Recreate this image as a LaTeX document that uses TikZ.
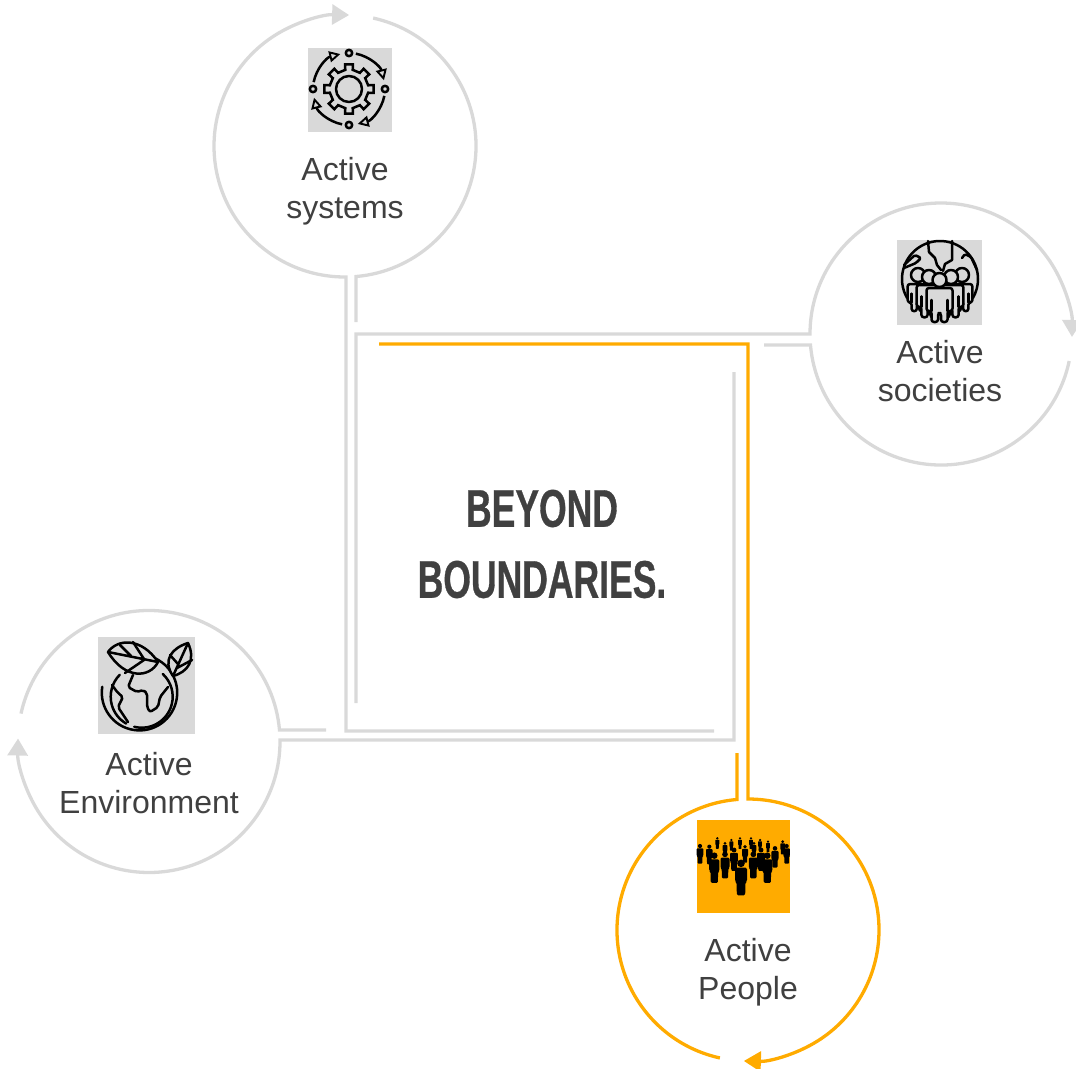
\documentclass[tikz,border=0pt]{standalone}
\usepackage{fontspec}
\setmainfont{Liberation Sans}
\newfontfamily\dispfont[FakeStretch=0.67,FakeBold=0.6]{Liberation Sans Bold}
\usetikzlibrary{arrows.meta,calc}
\definecolor{ring}{HTML}{D9D9D9}
\definecolor{amber}{HTML}{FFAB00}
\definecolor{ink}{HTML}{404040}
\tikzset{
  greyline/.style={draw=ring,line width=3.3pt,line join=miter},
  amberline/.style={draw=amber,line width=3.3pt,line join=miter},
  headgrey/.style={-{Triangle[length=17pt,width=20pt,fill=ring]}},
  headamber/.style={-{Triangle[length=17pt,width=20pt,fill=amber]}},
  label/.style={font=\fontsize{32}{38}\selectfont,text=ink,align=center,inner sep=0pt},
  title/.style={font=\dispfont\fontsize{53}{71}\selectfont,text=ink,align=center,inner sep=0pt},
  icongrey/.style={fill=ring,draw=none},
  iconamber/.style={fill=amber,draw=none},
  stroke/.style={draw=black,line width=2.5pt,line cap=round,line join=round},
  openhead/.style={-{Triangle[open,length=11pt,width=11pt,line width=1.9pt]}}
}
% one figure of a crowd: head centre at (#1,#2), scale #3
\newcommand{\crowdfig}[3]{%
  \begin{scope}[shift={(#1,#2)},scale=#3]
    \pgfmathsetmacro{\rc}{1.5*#3}
    \fill[black] (0,0) circle[radius=3.8];
    \fill[black,rounded corners=\rc pt] (-6,4.4) -- (6,4.4) -- (6,18) -- (4.4,19) -- (4.2,32) -- (-4.2,32) -- (-4.4,19) -- (-6,18) -- cycle;
  \end{scope}}
% one outlined person with a grey fill; top centre at (#1,#2), scale #3
\newcommand{\outlineperson}[3]{%
  \begin{scope}[shift={(#1,#2)},scale=#3]
    \draw[stroke,fill=ring,rounded corners=2.5pt] (-13,23) -- (-13,0) -- (13,0) -- (13,23) -- (8,23) -- (8,34) -- (1.5,34) -- (1.5,25) -- (-1.5,25) -- (-1.5,34) -- (-8,34) -- (-8,23) -- cycle;
    \draw[stroke] (8,23) -- (8,12) (-8,23) -- (-8,12);
  \end{scope}}
\begin{document}
\begin{tikzpicture}[x=1pt,y=-1pt]
\useasboundingbox (0,0) rectangle (1076,1068);
% centres
\coordinate (csys) at (345,146);
\coordinate (csoc) at (941,334);
\coordinate (cenv) at (149,741.5);
\coordinate (cpeo) at (748,930);
% free ends
\coordinate (a1) at (714,731);
\coordinate (a2) at (346,731);
\coordinate (b1) at (356,322);
\coordinate (c1) at (356,703);
\coordinate (c2) at (356,334);
\coordinate (d1) at (764,345);
\coordinate (e1) at (326,730);
\coordinate (f1) at (734,372);
\coordinate (f2) at (734,740);
\coordinate (g1) at (379,344);
\coordinate (g2) at (748,344);
\coordinate (h1) at (737,753);
% active systems
\path[greyline,headgrey] (a1) -- (a2) -- ($(csys)+(89.6:131)$) arc[start angle=89.6,end angle=271.8,radius=131];
\path[greyline] ($(csys)+(-77.6:131)$) arc[start angle=-77.6,end angle=85.18,radius=131] -- (b1);
% active societies
\path[greyline,headgrey] (c1) -- (c2) -- ($(csoc)+(180:131)$) arc[start angle=180,end angle=361.3,radius=131];
\path[greyline] ($(csoc)+(11.9:131)$) arc[start angle=11.9,end angle=175.18,radius=131] -- (d1);
% active environment
\path[greyline,headgrey] (f1) -- (f2) -- ($(cenv)+(-0.656:131)$) arc[start angle=-0.656,end angle=181.3,radius=131];
\path[greyline] ($(cenv)+(192.3:131)$) arc[start angle=192.3,end angle=354.97,radius=131] -- (e1);
% active people
\path[amberline,headamber] (g1) -- (g2) -- ($(cpeo)+(-90:131)$) arc[start angle=-90,end angle=91.8,radius=131];
\path[amberline] ($(cpeo)+(102.4:131)$) arc[start angle=102.4,end angle=265.18,radius=131] -- (h1);
% labels
\node[label] (lsys) at (345,191) {Active\\systems};
\node[label] (lsoc) at (940,371) {Active\\societies};
\node[label] (lenv) at (149,783) {Active\\Environment};
\node[label] (lpeo) at (748,972) {Active\\People};
\node[title] (ttl) at (542,544) {BEYOND\\BOUNDARIES.};
% icon squares
\fill[icongrey] (308,48) rectangle (392,132);
\fill[icongrey] (897,240) rectangle (982,325);
\fill[icongrey] (98,637) rectangle (195,734);
\fill[iconamber] (697,820) rectangle (790,913);
% gear icon
\coordinate (gc) at (349,89);
\draw[stroke] (gc) circle[radius=13];
\draw[stroke,line join=miter] ($(gc)+(-11:19.5)$)
  \foreach \a in {0,45,...,315}{ -- ($(gc)+(\a-11:19.5)$) -- ($(gc)+(\a-9:25)$) -- ($(gc)+(\a+9:25)$) -- ($(gc)+(\a+11:19.5)$)} -- cycle;
\foreach \a in {-90,0,90,180}{
  \draw[stroke] ($(gc)+(\a:36)$) circle[radius=3.2];
  \draw[stroke,openhead,line cap=butt] ($(gc)+(\a+11:36)$) arc[start angle=\a+11,end angle=\a+76,radius=36];
}
% societies icon
\coordinate (sg) at (940,279);
\draw[stroke] ($(sg)+(150:38)$) arc[start angle=150,end angle=390,radius=38];
\draw[stroke] (928,241) -- (929,252) -- (935,258) -- (937,265) -- (941,270);
\draw[stroke] (952,241) -- (952,260) -- (945,264) -- (943,271);
\draw[stroke,rounded corners=1.5pt] (904,265) -- (915,255) -- (921,258) -- (916,263) -- (904,268);
\draw[stroke,rounded corners=1.5pt] (962,258) -- (965,254) -- (971,257) -- (977,270);
\outlineperson{918}{284}{.8}
\outlineperson{962}{284}{.8}
\outlineperson{929}{285}{.95}
\outlineperson{951}{285}{.95}
\foreach \x/\y/\r in {918/275/7,962/275/7,929/277/7,951/277/7}{\draw[stroke,fill=ring] (\x,\y) circle[radius=\r];}
\outlineperson{939.5}{288}{1}
\draw[stroke,fill=ring] (939.5,280) circle[radius=7];
% environment icon
\coordinate (ei) at (141.7,696.7);
\coordinate (eo) at (139.5,692.7);
\draw[stroke] ($(ei)+(225:31)$) arc[start angle=225,end angle=120,radius=31];
\draw[stroke] ($(ei)+(104:31)$) arc[start angle=104,end angle=-47,radius=31];
\draw[stroke] ($(eo)+(189:37.7)$) arc[start angle=189,end angle=-68,radius=37.7];
\draw[stroke,fill=ring] (108,652) .. controls (118,638) and (142,638) .. (158,662) .. controls (150,678) and (125,680) .. cycle;
\draw[stroke] (108,652) -- (158,662) (120,645) -- (131,656) (133,642) -- (144,659) (125,673) -- (144,660);
\draw[stroke,fill=ring] (173,676) .. controls (162,660) and (172,648) .. (188,643) .. controls (196,660) and (188,672) .. cycle;
\draw[stroke] (173,676) -- (188,643) (170,655) -- (178,664) (192,660) -- (177,668);
\draw[stroke,rounded corners=2pt] (133,675) -- (128,687) -- (137,692) -- (143,690) -- (147,693) -- (147,707) -- (150,712) -- (158,707) -- (160,697) -- (168,687);
\draw[stroke,rounded corners=2pt] (112,685) -- (118,693) -- (123,697) -- (118,707) -- (128,722);
% crowd icon
\foreach \x/\y/\s in {82/70/.33,124/75/.33,150/70/.33,183/70/.33,210/75/.33,234/80/.33,278/80/.4,105/85/.4,192/85/.4,30/93/.55,58/95/.55,290/93/.55,255/100/.6,165/95/.5,132/105/.65,213/105/.65,105/118/.75,190/118/.75,73/122/.85,232/122/.85,153/145/1}{
  \crowdfig{690+\x/3}{815+\y/3}{\s}
}
\end{tikzpicture}
\end{document}
